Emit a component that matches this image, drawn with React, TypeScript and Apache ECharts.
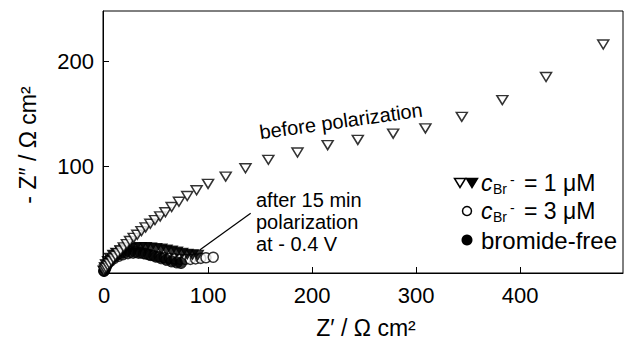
import React, { useEffect, useRef } from "react";
import * as echarts from "echarts";

// 1 µM, before polarization (open down-triangles)
const before1uM: [number, number][] = [
  [0, 0], [1, 1.5], [2, 3], [3.5, 5], [5, 7], [7, 9.5], [9, 12], [11, 14.5], [13.5, 17], [16, 19.5],
  [19, 22.5], [22, 25.5], [25, 28.5], [28.5, 31.5], [32, 34.5], [36, 38], [40, 41.5], [44.5, 45],
  [49, 48.5], [54, 52], [59, 56], [65, 61], [72, 66], [80, 71.5], [89, 77], [100, 83],
  [117, 90], [136, 98], [158, 106], [186, 113], [215, 120], [244, 125], [278, 131],
  [309, 136], [344, 147], [383, 163], [425, 185], [480, 216],
];
// 1 µM, after 15 min polarization (filled down-triangles)
const after1uM: [number, number][] = [
  [0, 0], [1, 3], [2, 6], [4, 9], [6, 12], [9, 15], [12, 17], [16, 19], [20, 20.5], [25, 21.5],
  [30, 22], [35, 22.3], [40, 22.3], [45, 22], [50, 21.5], [55, 21], [60, 20], [65, 19],
  [70, 18], [75, 17], [80, 16], [85, 15.5], [90, 15],
];
// 3 µM (open circles)
const c3uM: [number, number][] = [
  [0, 0], [1, 2], [2, 4], [4, 7], [7, 10], [10, 12], [14, 14], [18, 15.5], [23, 16.5], [28, 17],
  [33, 17], [38, 16.5], [43, 15.5], [48, 14.5], [53, 13.5], [58, 12.5], [63, 12], [68, 11.5],
  [73, 11], [78, 11], [83, 11], [88, 11.5], [93, 12], [98, 12.5], [105, 13],
];
// bromide-free (filled circles)
const bromideFree: [number, number][] = [
  [0, 0], [1, 2], [2, 5], [4, 8], [6, 11], [9, 13], [12, 15], [16, 16.5], [20, 17.5], [25, 18],
  [30, 18], [35, 17.5], [40, 16.5], [45, 15], [50, 13.5], [55, 12], [60, 10.5], [65, 9],
  [70, 8], [74, 7.5],
];

const xTickValues = [0, 100, 200, 300, 400];
const yTickValues = [100, 200];
const arrowFrom = [141, 55];
const arrowTo = [92, 20];

const FONT = "'Liberation Sans', Arial, Helvetica, sans-serif";

export default function App() {
  const ref = useRef<HTMLDivElement>(null);
  useEffect(() => {
    document.body.style.margin = "0";
    if (!ref.current) return;
    const chart = echarts.init(ref.current, undefined, { renderer: "svg" });
    const txt = (x: number, y: number, text: string, size = 20, extra: any = {}) => ({
      type: "text",
      x,
      y,
      silent: true,
      ...extra,
      style: {
        text,
        fill: "#000",
        font: `${extra.fontStyle || "normal"} ${size}px ${FONT}`,
        align: extra.align || "left",
        verticalAlign: "middle",
      },
    });
    const openStyle = { color: "#fff", borderColor: "#000", borderWidth: 1.5 };
    const filledStyle = { color: "#000", borderColor: "#000", borderWidth: 1 };
    const downTri = (cx: number, cy: number, fill: string) => ({
      type: "polygon",
      silent: true,
      shape: { points: [[cx - 5.5, cy - 4.5], [cx + 5.5, cy - 4.5], [cx, cy + 4.5]] },
      style: { fill, stroke: "#000", lineWidth: 1.5 },
    });
    const legendSub = (x: number, y: number, rest: string) => [
      txt(x, y, "c", 23, { fontStyle: "italic" }),
      txt(x + 12, y + 6, "Br", 14),
      txt(x + 29, y - 3, "-", 14),
      txt(x + 43, y, rest, 23),
    ];
    chart.setOption({
      animation: false,
      backgroundColor: "#fff",
      grid: {
        left: 103,
        right: 9,
        top: 11,
        bottom: 71,
        show: true,
        borderColor: "#000",
        borderWidth: 1,
        backgroundColor: "transparent",
      },
      xAxis: {
        type: "value",
        min: -1,
        max: 499,
        axisLine: { show: true, onZero: false, lineStyle: { color: "#000", width: 1 } },
        axisTick: { show: true, inside: true, length: 6, customValues: xTickValues, lineStyle: { color: "#000" } },
        axisLabel: { customValues: xTickValues, color: "#000", fontSize: 22, fontFamily: FONT, margin: 11 },
        splitLine: { show: false },
      },
      yAxis: {
        type: "value",
        min: -2,
        max: 248,
        axisLine: { show: true, onZero: false, lineStyle: { color: "#000", width: 1 } },
        axisTick: { show: true, inside: true, length: 6, customValues: yTickValues, lineStyle: { color: "#000" } },
        axisLabel: { customValues: yTickValues, color: "#000", fontSize: 22, fontFamily: FONT, margin: 9 },
        splitLine: { show: false },
      },
      series: [
        {
          type: "scatter",
          name: "3 µM",
          data: c3uM,
          symbol: "circle",
          symbolSize: 10,
          itemStyle: openStyle,
          z: 2,
        },
        {
          type: "scatter",
          name: "bromide-free",
          data: bromideFree,
          symbol: "circle",
          symbolSize: 11,
          itemStyle: filledStyle,
          z: 3,
        },
        {
          type: "scatter",
          name: "1 µM after",
          data: after1uM,
          symbol: "triangle",
          symbolRotate: 180,
          symbolSize: [12, 10],
          itemStyle: filledStyle,
          z: 4,
        },
        {
          type: "scatter",
          name: "1 µM before",
          data: before1uM,
          symbol: "triangle",
          symbolRotate: 180,
          symbolSize: [11, 9],
          itemStyle: openStyle,
          z: 5,
          markLine: {
            silent: true,
            symbol: ["none", "arrow"],
            symbolSize: [0, 10],
            label: { show: false },
            lineStyle: { color: "#000", width: 1.2, type: "solid" },
            data: [[{ coord: arrowFrom }, { coord: arrowTo }]],
          },
        },
      ],
      graphic: [
        txt(341, 121, "before polarization", 20, { align: "center", rotation: (8 * Math.PI) / 180 }),
        txt(256, 200, "after 15 min", 20),
        txt(256, 222, "polarization", 20),
        txt(256, 244, "at - 0.4 V", 20),
        txt(366, 328, "Z\u2032 / \u03A9 cm\u00B2", 23, { align: "center" }),
        txt(28, 145, "- Z\u2033 / \u03A9 cm\u00B2", 23, { align: "center", rotation: Math.PI / 2 }),
        downTri(460, 183, "#fff"),
        downTri(472, 183, "#000"),
        ...legendSub(481, 183, "= 1 \u03BCM"),
        { type: "circle", silent: true, shape: { cx: 467, cy: 211, r: 4.5 }, style: { fill: "#fff", stroke: "#000", lineWidth: 1.5 } },
        ...legendSub(481, 211, "= 3 \u03BCM"),
        { type: "circle", silent: true, shape: { cx: 467, cy: 240, r: 5.5 }, style: { fill: "#000" } },
        txt(481, 240, "bromide-free", 24),
      ],
    });
    return () => chart.dispose();
  }, []);
  return <div ref={ref} style={{ width: 632, height: 344 }} />;
}
